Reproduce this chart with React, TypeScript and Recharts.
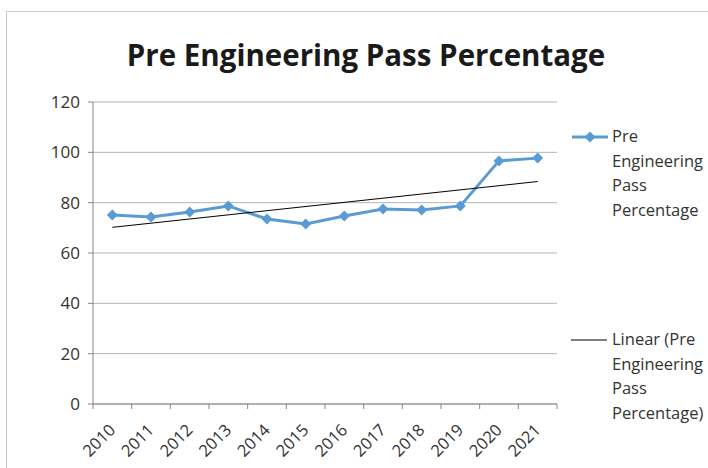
import React from 'react';
import { LineChart, Line, XAxis, YAxis, CartesianGrid } from 'recharts';

// values
const years = ['2010', '2011', '2012', '2013', '2014', '2015', '2016', '2017', '2018', '2019', '2020', '2021'];
const passPct = [75.1, 74.3, 76.3, 78.7, 73.5, 71.5, 74.7, 77.5, 77.1, 78.7, 96.6, 97.7];
// linear trend: only the two ends are drawn, joined by connectNulls
const trendPct = [70.2, null, null, null, null, null, null, null, null, null, null, 88.4];
const yTicks = [0, 20, 40, 60, 80, 100, 120];

const data = years.map((year, i) => ({ year, pass: passPct[i], trend: trendPct[i] }));

const FONT = '"Open Sans", "Liberation Sans", sans-serif';
const BLUE = '#5b9bd5';
const AXIS = '#868686';
const TEXT = '#333333';
const PLOT_W = 464;

const Diamond = (props: any) => {
  const { cx, cy } = props;
  if (cx == null || cy == null) return null;
  return <path d={`M${cx},${cy - 5.5} L${cx + 5.5},${cy} L${cx},${cy + 5.5} L${cx - 5.5},${cy} Z`} fill={BLUE} />;
};

const YearTick = (props: any) => {
  const { x, y, payload, index } = props;
  const bw = PLOT_W / years.length;
  const ax = x + 4;
  const ay = y + 27;
  return (
    <g>
      <line x1={x - bw / 2} y1={y} x2={x - bw / 2} y2={y + 5} stroke={AXIS} />
      {index === years.length - 1 && <line x1={x + bw / 2} y1={y} x2={x + bw / 2} y2={y + 5} stroke={AXIS} />}
      <text x={ax} y={ay} textAnchor="end" fill={TEXT} fontSize={16.5} fontFamily={FONT} transform={`rotate(-45, ${ax}, ${ay})`}>
        {payload.value}
      </text>
    </g>
  );
};

const legendText: React.CSSProperties = {
  position: 'absolute',
  left: 612,
  fontFamily: FONT,
  fontSize: 16.5,
  lineHeight: '24.5px',
  color: TEXT,
};

const App: React.FC = () => {
  return (
    <div style={{ position: 'absolute', left: 0, top: 0, width: 708, height: 468, background: '#fff', overflow: 'hidden' }}>
      <div style={{ position: 'absolute', left: 6, top: 11, width: 760, height: 520, border: '1px solid #c8c8c8' }} />
      <div
        style={{
          position: 'absolute',
          left: 0,
          width: 732,
          top: 34,
          textAlign: 'center',
          fontFamily: FONT,
          fontWeight: 700,
          fontSize: 29.5,
          color: '#1a1a1a',
        }}
      >
        Pre Engineering Pass Percentage
      </div>
      <div style={{ position: 'absolute', left: 0, top: 0 }}>
        <LineChart width={708} height={468} data={data} margin={{ top: 102, right: 151, bottom: 0, left: 0 }}>
          <CartesianGrid vertical={false} stroke="#b5b5b5" />
          <XAxis
            dataKey="year"
            scale="band"
            interval={0}
            height={64}
            tickLine={false}
            tickSize={0}
            tickMargin={0}
            axisLine={{ stroke: AXIS }}
            tick={<YearTick />}
          />
          <YAxis
            width={93}
            domain={[0, 120]}
            ticks={yTicks}
            interval={0}
            tickSize={5}
            tickMargin={8}
            axisLine={{ stroke: AXIS }}
            tickLine={{ stroke: AXIS }}
            tick={{ fill: TEXT, fontSize: 17, fontFamily: FONT }}
          />
          <Line
            dataKey="pass"
            stroke={BLUE}
            strokeWidth={3}
            dot={<Diamond />}
            activeDot={false}
            isAnimationActive={false}
          />
          <Line
            dataKey="trend"
            stroke="#000"
            strokeWidth={1}
            connectNulls
            dot={false}
            activeDot={false}
            isAnimationActive={false}
          />
        </LineChart>
      </div>
      <svg style={{ position: 'absolute', left: 0, top: 0 }} width={708} height={468} pointerEvents="none">
        <line x1={572} y1={137} x2={608} y2={137} stroke={BLUE} strokeWidth={3} />
        <path d="M590,131.5 L595.5,137 L590,142.5 L584.5,137 Z" fill={BLUE} />
        <line x1={571} y1={340} x2={607} y2={340} stroke="#000" strokeWidth={1} />
      </svg>
      <div style={{ ...legendText, top: 124 }}>
        Pre<br />Engineering<br />Pass<br />Percentage
      </div>
      <div style={{ ...legendText, top: 327 }}>
        Linear (Pre<br />Engineering<br />Pass<br />Percentage)
      </div>
    </div>
  );
};

export default App;
